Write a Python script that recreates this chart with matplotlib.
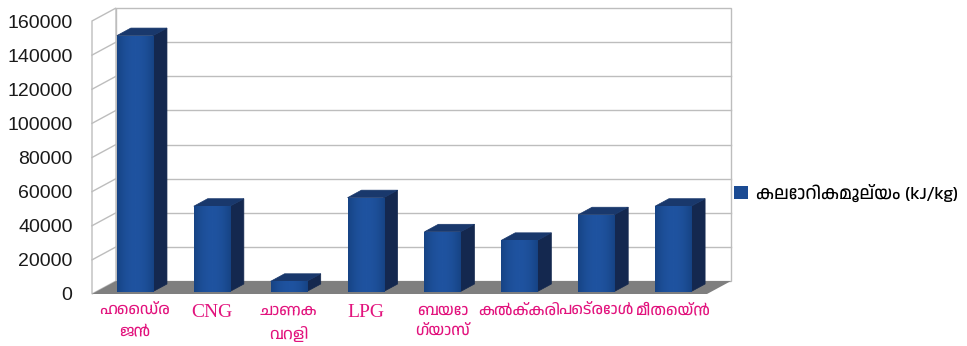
# Calorific values of common fuels, drawn as pseudo-3D bars
import matplotlib
matplotlib.use("Agg")
import numpy as np
import matplotlib.pyplot as plt
from matplotlib import font_manager
from matplotlib.colors import LinearSegmentedColormap
from matplotlib.patches import Polygon, Patch

fuels = ["ഹൈഡ്ര\nജൻ", "CNG", "ചാണക\nവറളി", "LPG", "ബയോ\nഗ്യാസ്",
         "കൽക്കരി", "പെട്രോൾ", "മീതെയ്ൻ"]
latin_fuels = {"CNG", "LPG"}
calorific = [150000, 50000, 6000, 55000, 35000, 30000, 45000, 50000]
yticks = list(range(0, 160001, 20000))
series_name = "കലോറികമൂല്യം (kJ/kg)"

# pick up any Malayalam face that happens to be installed
installed = {f.name for f in font_manager.fontManager.ttflist}
mal_fonts = sorted(n for n in installed if "Malayalam" in n)
MAL = mal_fonts + ["Liberation Sans", "DejaVu Sans"]

FRONT = "#1b4b93"
SIDE = "#14284f"
TOP = "#19386c"
GRID = "#bdbdbd"
FLOOR = "#7f7f7f"
LABEL = "#e2137d"
front_cmap = LinearSegmentedColormap.from_list("front", ["#1f53a0", "#164384"])

# depth of the box (in data units) and where the bars sit inside it
DX, DY = 0.312, 7600
F, BD, W = 0.19, 0.58, 0.47
YMAX = yticks[-1]
n = len(fuels)

fig = plt.figure(figsize=(9.67, 3.46), dpi=100)
ax = fig.add_axes([92 / 967, 52 / 346, 615 / 967, 273 / 346])
for s in ax.spines.values():
    s.set_visible(False)

# back wall and left wall
ax.add_patch(Polygon([(DX, DY), (n + DX, DY), (n + DX, YMAX + DY), (DX, YMAX + DY)],
                     closed=True, facecolor="white", edgecolor=GRID, lw=1,
                     clip_on=False, zorder=1))
ax.add_patch(Polygon([(0, 0), (DX, DY), (DX, YMAX + DY), (0, YMAX)],
                     closed=True, facecolor="white", edgecolor=GRID, lw=1,
                     clip_on=False, zorder=1))
for v in yticks[1:-1]:
    ax.plot([DX, n + DX], [v + DY, v + DY], color=GRID, lw=1, clip_on=False, zorder=1.5)
    ax.plot([0, DX], [v, v + DY], color=GRID, lw=1, clip_on=False, zorder=1.5)

# floor
ax.add_patch(Polygon([(0, 0), (n, 0), (n + DX, DY), (DX, DY)], closed=True,
                     facecolor=FLOOR, edgecolor="none", clip_on=False, zorder=2))

# bars: front faces from ax.bar, then side and top faces from the same rectangles
xs = [i + 0.5 + F * DX for i in range(n)]
bars = ax.bar(xs, calorific, width=W, bottom=F * DY, color=FRONT, zorder=4,
              clip_on=False)
shade = (np.abs(np.linspace(-1, 1, 64)) ** 2).reshape(1, -1)
for rect in bars:
    xl = rect.get_x()
    xr = xl + rect.get_width()
    b = rect.get_y()
    t = b + rect.get_height()
    ox, oy = BD * DX, BD * DY
    # lighter band down the middle of the front face
    img = ax.imshow(shade, extent=(xl, xr, b, t), aspect="auto", zorder=4.5,
                    cmap=front_cmap, vmin=0, vmax=1)
    img.set_clip_path(rect)
    ax.add_patch(Polygon([(xr, b), (xr + ox, b + oy), (xr + ox, t + oy), (xr, t)],
                         closed=True, facecolor=SIDE, edgecolor=SIDE, lw=0.5,
                         clip_on=False, zorder=3))
    ax.add_patch(Polygon([(xl, t), (xl + ox, t + oy), (xr + ox, t + oy), (xr, t)],
                         closed=True, facecolor=TOP, edgecolor=TOP, lw=0.5,
                         clip_on=False, zorder=3))
ax.set_xlim(0, n)
ax.set_ylim(0, YMAX)

ax.set_yticks(yticks)
ax.set_yticklabels([str(v) for v in yticks], fontsize=14, family="Liberation Sans",
                   color="#1a1a1a")
ax.tick_params(axis="y", length=0, pad=14)

ax.set_xticks(xs)
ax.set_xticklabels(fuels, fontsize=11.5, color=LABEL, linespacing=1.6)
ax.tick_params(axis="x", length=0, pad=7)
for lab in ax.get_xticklabels():
    if lab.get_text() in latin_fuels:
        lab.set_family("Liberation Serif")
        lab.set_fontsize(14)
    else:
        lab.set_family(MAL)
    lab.set_verticalalignment("top")

fig.legend([Patch(facecolor=FRONT)], [series_name], loc="center left",
           bbox_to_anchor=(718 / 967, 1 - 193 / 346), frameon=False,
           handlelength=0.75, handleheight=0.75, handletextpad=0.45,
           prop={"family": MAL, "size": 13})

fig.savefig("out.png", dpi=100)
